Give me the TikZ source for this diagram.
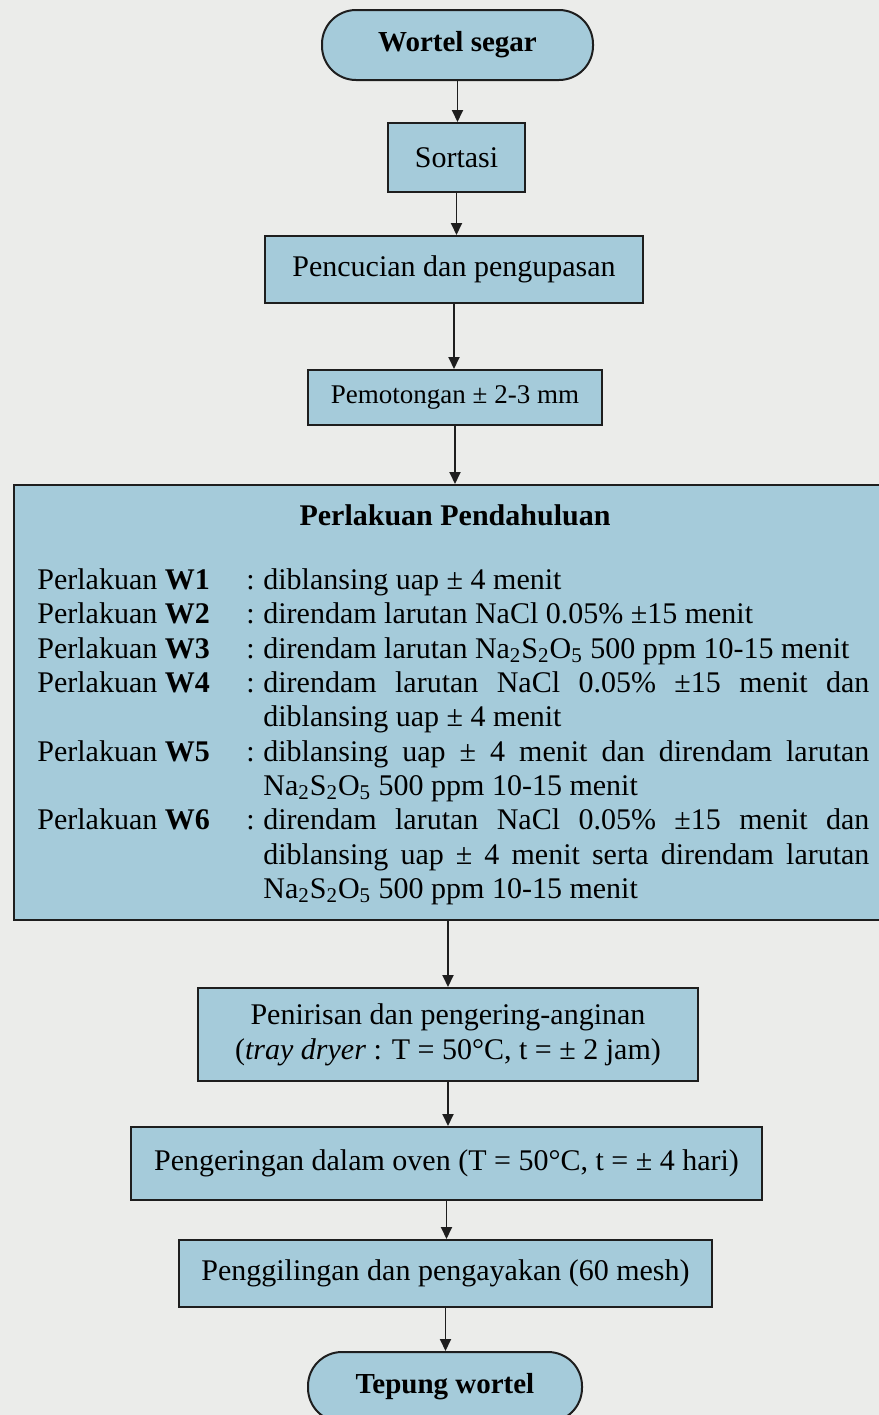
\documentclass[tikz,border=0pt]{standalone}
\usepackage{fontspec}
\setmainfont{Liberation Serif}
\usetikzlibrary{arrows.meta}
\definecolor{bgc}{HTML}{EBECEA}
\definecolor{boxc}{HTML}{A5CBDA}
\definecolor{linec}{HTML}{1E1E1E}
\tikzset{
  procbox/.style={draw=linec, line width=1pt, fill=boxc, inner sep=0pt, align=center,
    font=\fontsize{15}{17.5}\selectfont},
  termbox/.style={procbox, rounded corners=17pt, font=\fontsize{14.5}{17}\bfseries},
  arr/.style={draw=linec, line width=0.9pt, -{Triangle[length=6pt,width=5.5pt]}},
  txt/.style={inner sep=0pt, anchor=base west, font=\fontsize{15}{17.5}\selectfont},
}
\newcommand{\nas}{Na\textsubscript{2}S\textsubscript{2}O\textsubscript{5}}
\newcommand{\jline}[1]{\makebox[303pt][s]{#1}}
\begin{document}
\begin{tikzpicture}[x=0.5pt,y=-0.5pt]
\useasboundingbox (0,0) rectangle (879,1415);
\clip (0,0) rectangle (879,1415);
\fill[bgc] (0,0) rectangle (879,1415);

\node[termbox, minimum width=135.5pt, minimum height=35pt] (start) at (457.5,45) {Wortel segar};
\node[procbox, minimum width=68.5pt, minimum height=34.5pt] (sort) at (456.5,157.5) {Sortasi};
\node[procbox, minimum width=189pt, minimum height=33.5pt] (cuci) at (454,269.5) {Pencucian dan pengupasan};
\node[procbox, minimum width=147pt, minimum height=27.5pt, font=\fontsize{13.5}{16}\selectfont] (potong) at (455,397.5) {Pemotongan ± 2-3 mm};
\node[procbox, minimum width=438pt, minimum height=217.5pt] (big) at (452,702.5) {};

\node[inner sep=0pt, anchor=base, font=\fontsize{15}{17.5}\bfseries] (title) at (455,525) {Perlakuan Pendahuluan};

\node[txt] (l1) at (37,589) {Perlakuan \textbf{W1}};
\node[txt] (l2) at (37,623) {Perlakuan \textbf{W2}};
\node[txt] (l3) at (37,658) {Perlakuan \textbf{W3}};
\node[txt] (l4) at (37,692) {Perlakuan \textbf{W4}};
\node[txt] (l5) at (37,761) {Perlakuan \textbf{W5}};
\node[txt] (l6) at (37,829) {Perlakuan \textbf{W6}};

\node[txt] (c1) at (246,589) {:};
\node[txt] (c2) at (246,623) {:};
\node[txt] (c3) at (246,658) {:};
\node[txt] (c4) at (246,692) {:};
\node[txt] (c5) at (246,761) {:};
\node[txt] (c6) at (246,829) {:};

\node[txt] (d1) at (263,589) {diblansing uap ± 4 menit};
\node[txt] (d2) at (263,623) {direndam larutan NaCl 0.05\% ±15 menit};
\node[txt] (d3) at (263,658) {direndam larutan \nas{} 500 ppm 10-15 menit};
\node[txt] (d4a) at (263,692) {\jline{direndam larutan NaCl 0.05\% ±15 menit dan}};
\node[txt] (d4b) at (263,726) {diblansing uap ± 4 menit};
\node[txt] (d5a) at (263,761) {\jline{diblansing uap ± 4 menit dan direndam larutan}};
\node[txt] (d5b) at (263,795) {\nas{} 500 ppm 10-15 menit};
\node[txt] (d6a) at (263,829) {\jline{direndam larutan NaCl 0.05\% ±15 menit dan}};
\node[txt] (d6b) at (263,864) {\jline{diblansing uap ± 4 menit serta direndam larutan}};
\node[txt] (d6c) at (263,898) {\nas{} 500 ppm 10-15 menit};

\node[procbox, minimum width=250pt, minimum height=46.5pt] (tiris) at (448,1034.5) {Penirisan dan pengering-anginan\\(\textit{tray dryer} : T = 50°C, t = ± 2 jam)};
\node[procbox, minimum width=315.5pt, minimum height=36.5pt] (oven) at (446.5,1163.5) {Pengeringan dalam oven (T = 50°C, t = ± 4 hari)};
\node[procbox, minimum width=266.5pt, minimum height=33.5pt] (giling) at (445.5,1273.5) {Penggilingan dan pengayakan (60 mesh)};
\node[termbox, minimum width=137pt, minimum height=35pt] (end) at (445,1387) {Tepung wortel};

\draw[arr] (start.south) -- (start.south |- sort.north);
\draw[arr] (sort.south) -- (sort.south |- cuci.north);
\draw[arr] (cuci.south) -- (cuci.south |- potong.north);
\draw[arr] (potong.south) -- (potong.south |- big.north);
\draw[arr] (tiris.north |- big.south) -- (tiris.north);
\draw[arr] (tiris.south) -- (tiris.south |- oven.north);
\draw[arr] (oven.south) -- (oven.south |- giling.north);
\draw[arr] (giling.south) -- (giling.south |- end.north);
\end{tikzpicture}
\end{document}
